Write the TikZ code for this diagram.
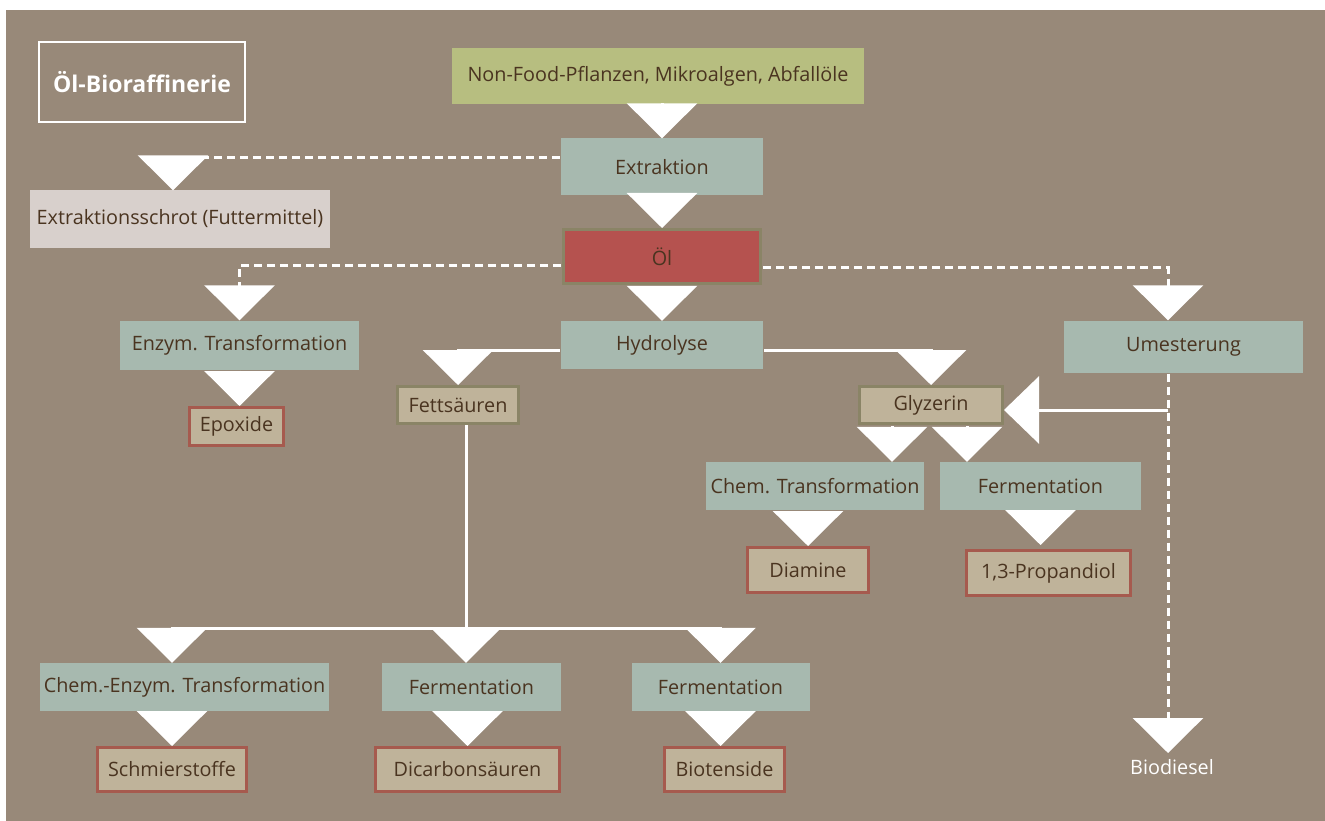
\documentclass[tikz,border=0pt]{standalone}
\usepackage{fontspec}
\setmainfont{Open Sans}
\usetikzlibrary{arrows.meta}
\definecolor{bgbraun}{HTML}{988979}
\definecolor{salbei}{HTML}{A7B9AF}
\definecolor{khaki}{HTML}{BFB39A}
\definecolor{oelrot}{HTML}{B5524F}
\definecolor{gruengelb}{HTML}{B7BE80}
\definecolor{hellgrau}{HTML}{D8D0CC}
\definecolor{schrift}{HTML}{4A3420}
\definecolor{oliv}{HTML}{8A8466}
\definecolor{rotrand}{HTML}{A65A4E}

\begin{document}
\begin{tikzpicture}[x=1pt, y=-1pt,
  every node/.style={font=\fontsize{19.8}{24}\selectfont, text=schrift, inner sep=0pt},
  kasten/.style 2 args={fill=salbei, minimum width=#1pt, minimum height=#2pt},
  zwischen/.style 2 args={fill=khaki, draw=oliv, line width=3pt, minimum width=#1pt, minimum height=#2pt},
  produkt/.style 2 args={fill=khaki, draw=rotrand, line width=3pt, minimum width=#1pt, minimum height=#2pt},
  linie/.style={draw=white, line width=3pt},
  flow/.style={linie, shorten <=1pt, -{Triangle[width=70pt,length=35pt]}},
  strich/.style={flow, dash pattern=on 8pt off 5pt}]
  % Hintergrund
  \useasboundingbox (0,0) rectangle (1325,821);
  \fill[white] (0,0) rectangle (1325,821);
  \fill[bgbraun] (6,10) rectangle (1325,821);

  % Titel
  \node[draw=white, line width=2pt, minimum width=206pt, minimum height=80pt, text=white,
    font=\bfseries\fontsize{23}{27}\selectfont] (titel) at (142,82) {Öl-Bioraffinerie};

  % Hauptstrang
  \node[kasten={412}{56}, fill=gruengelb] (pflanzen) at (658,76) {Non-Food-Pflanzen, Mikroalgen, Abfallöle};
  \node[kasten={202}{57}] (extraktion) at (662,167) {Extraktion};
  \node[kasten={197}{54}, fill=oelrot, draw=oliv, line width=3pt] (oel) at (662,256.5) {Öl};
  \node[kasten={202}{48}] (hydrolyse) at (662,345) {Hydrolyse};

  % Nebenstrang links
  \node[kasten={300}{57}, fill=hellgrau] (schrot) at (180,219) {Extraktionsschrot (Futtermittel)};
  \node[kasten={239}{49}] (enzym) at (239.5,345) {Enzym. Transformation};
  \node[produkt={94}{38}] (epoxide) at (236.5,426.5) {Epoxide};

  % Umesterung
  \node[kasten={239}{52}] (umesterung) at (1183.5,346.5) {Umesterung};
  \coordinate (ux) at (1168,0);
  \node[anchor=north, text=white] (biodiesel) at (1172,759) {Biodiesel};

  % Produkte der Hydrolyse
  \node[zwischen={121}{37}] (fett) at (458,405) {Fettsäuren};
  \node[zwischen={143}{37}] (glyzerin) at (931,405) {Glyzerin};
  \node[kasten={218}{48}] (chemtrans) at (815,486) {Chem. Transformation};
  \node[kasten={201}{48}] (fermglyz) at (1040.5,486) {Fermentation};
  \node[produkt={121}{45}] (diamine) at (808,570) {Diamine};
  \node[produkt={164}{45}] (propandiol) at (1048.5,573) {1,3-Propandiol};

  % Produkte der Fettsäuren
  \node[kasten={289}{48}] (chemenz) at (184.5,687) {Chem.-Enzym. Transformation};
  \node[kasten={179}{48}] (fermdicarb) at (471.5,687) {Fermentation};
  \node[kasten={178}{48}] (fermtensid) at (720.5,687) {Fermentation};
  \node[produkt={149}{44}] (schmier) at (172,769.5) {Schmierstoffe};
  \node[produkt={184}{44}] (dicarb) at (467.5,769.5) {Dicarbonsäuren};
  \node[produkt={120}{44}] (tenside) at (724.5,769.5) {Biotenside};

  % Pfeile Hauptstrang
  \draw[flow] (pflanzen.south -| extraktion) -- (extraktion.north);
  \draw[flow] (extraktion.south) -- (oel.north);
  \draw[flow] (oel.south) -- (hydrolyse.north);

  % gestrichelte Nebenwege
  \draw[strich] ([yshift=9pt]extraktion.west) -| ([xshift=-7pt]schrot.north);
  \draw[strich] ([yshift=-9pt]oel.west) -| (enzym.north);
  \draw[strich] ([yshift=-11pt]oel.east) -| (umesterung.north -| ux);
  \draw[flow] (enzym.south) -- (enzym.south |- epoxide.north);
  \draw[strich, shorten >=6pt] (umesterung.south -| ux) -- (biodiesel.north -| ux);

  % Hydrolyse
  \draw[flow] ([yshift=-5pt]hydrolyse.west) -| (fett.north);
  \draw[flow] ([yshift=-5pt]hydrolyse.east) -| (glyzerin.north);
  \coordinate (gein) at ([yshift=-5pt]glyzerin.east);
  \draw[linie, -{Triangle[width=67pt,length=35pt]}] (gein -| ux) -- (gein);

  % Glyzerin
  \coordinate (gl) at ([xshift=-39pt]glyzerin.south);
  \coordinate (gr) at ([xshift=36pt]glyzerin.south);
  \draw[flow] (gl) -- (gl |- chemtrans.north);
  \draw[flow] (gr) -- (gr |- fermglyz.north);
  \draw[flow] (chemtrans.south -| diamine) -- (diamine.north);
  \draw[flow, shorten >=4pt] (fermglyz.south) -- (fermglyz.south |- propandiol.north);

  % Fettsäuren
  \coordinate (fj) at (466,628);
  \draw[linie] (fett.south -| fj) -- (fj);
  \draw[flow] (fj) -| (chemenz.north -| schmier);
  \draw[flow] (fj) -- (fermdicarb.north -| fj);
  \draw[flow] (fj) -| (fermtensid.north);
  \draw[flow] (chemenz.south -| schmier) -- (schmier.north);
  \draw[flow] (fermdicarb.south -| dicarb) -- (dicarb.north);
  \draw[flow] (fermtensid.south) -- (fermtensid.south |- tenside.north);
\end{tikzpicture}
\end{document}
